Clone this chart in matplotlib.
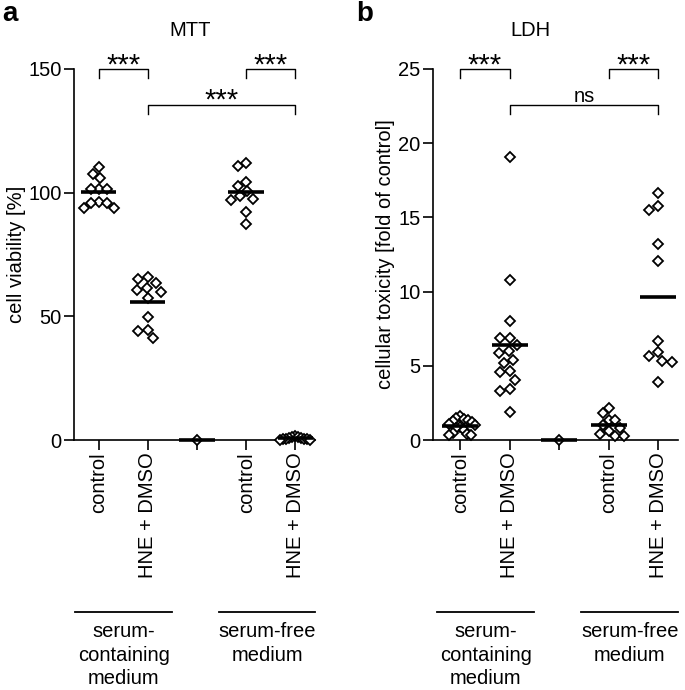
import numpy as np
import matplotlib
matplotlib.use('Agg')
import matplotlib.pyplot as plt
import matplotlib.transforms as mtransforms

plt.rcParams['font.family'] = ['Liberation Sans', 'DejaVu Sans']

# categories
positions = [1, 2, 3, 4, 5]
tick_labels = ['control', 'HNE + DMSO', '', 'control', 'HNE + DMSO']
media_labels = ['serum-\ncontaining\nmedium', 'serum-free\nmedium']

# MTT, cell viability [%]
mtt_sc_control = [110.2, 107.5, 105.9, 101.4, 101.4, 101.4, 96.4, 95.8, 95.8, 93.8, 93.8]
mtt_sc_hne = [65.8, 65.2, 63.4, 61.4, 60.7, 60.0, 57.3, 49.9, 44.5, 44.2, 41.1]
mtt_empty = [0.0]
mtt_sf_control = [112.0, 110.6, 104.5, 102.5, 100.5, 98.5, 97.4, 97.1, 92.0, 87.3]
mtt_sf_hne = [1.8, 1.4, 1.2, 1.0, 0.8, 0.6, 0.5, 0.4, 0.3, 0.2, 0.1]

# LDH, cellular toxicity [fold of control]
ldh_sc_control = [1.6, 1.5, 1.4, 1.35, 1.3, 1.2, 1.1, 1.0, 0.9, 0.8, 0.7, 0.5, 0.4, 0.35, 0.35]
ldh_sc_hne = [19.06, 10.79, 8.03, 6.90, 6.90, 6.41, 6.0, 5.84, 5.40, 5.17, 4.65, 4.56,
              4.05, 3.44, 3.33, 1.91]
ldh_empty = [0.0]
ldh_sf_control = [2.18, 1.80, 1.35, 1.35, 1.0, 0.83, 0.6, 0.38, 0.29, 0.29]
ldh_sf_hne = [16.63, 15.80, 15.51, 13.22, 12.03, 6.68, 5.96, 5.69, 5.35, 5.24, 3.93]

FS = 14.5


def swarm_offsets(ax, vals, d=10.0, max_half=15.0):
    # simple beeswarm in pixel space, like the GraphPad scatter
    p0 = ax.transData.transform((0, 0))
    p1 = ax.transData.transform((1, 1))
    sx, sy = p1 - p0
    placed = []
    for v in vals:
        y = v * sy
        cands = [0.0]
        for px, py in placed:
            dy = abs(py - y)
            if dy < d:
                dx = np.sqrt(d * d - dy * dy)
                cands += [px - dx, px + dx]
        cands.sort(key=abs)
        best = cands[0]
        for c in cands:
            if all((c - px) ** 2 + (y - py) ** 2 >= d * d - 1e-6 for px, py in placed):
                best = c
                break
        placed.append((best, y))
    xs = np.array([p[0] for p in placed])
    m = np.abs(xs).max() if len(xs) else 0
    if m > max_half:
        xs = xs * max_half / m
    return xs / sx


def bracket(ax, x1, x2, y, leg, text, fs, dy):
    ax.plot([x1, x1, x2, x2], [y - leg, y, y, y - leg], color='k', lw=1.0, clip_on=False)
    ax.annotate(text, xy=((x1 + x2) / 2, y), xytext=(0, dy), textcoords='offset points',
                ha='center', va='baseline', fontsize=fs, annotation_clip=False)


def draw_panel(ax, data, xlim, ylim, yticks, ylabel, ylabel_x):
    ax.set_xlim(*xlim)
    ax.set_ylim(*ylim)
    for pos, vals in zip(positions, data):
        offs = swarm_offsets(ax, vals)
        ax.plot(pos + offs, vals, linestyle='none', marker='D', ms=4.8, mfc='white',
                mec='black', mew=1.3, clip_on=False, zorder=3)
        ax.hlines(np.mean(vals), pos - 0.36, pos + 0.36, color='black', lw=2.6,
                  zorder=4, clip_on=False)
    for s in ['top', 'right']:
        ax.spines[s].set_visible(False)
    for s in ['left', 'bottom']:
        ax.spines[s].set_linewidth(1.2)
    ax.set_yticks(yticks)
    ax.set_xticks(positions)
    ax.set_xticklabels(tick_labels, rotation=90, fontsize=FS)
    ax.tick_params(axis='both', direction='out', length=7, width=1.2, labelsize=FS, pad=2)
    ax.set_ylabel(ylabel, fontsize=FS)
    ax.yaxis.set_label_coords(ylabel_x, 0.5)

    # group lines and labels under the tick labels
    trans = mtransforms.blended_transform_factory(ax.transData, ax.transAxes)
    for (a, b), lab in zip([(0.53, 2.5), (3.45, 5.4)], media_labels):
        ax.plot([a, b], [-0.464, -0.464], color='black', lw=1.3, transform=trans, clip_on=False)
        ax.text((a + b) / 2, -0.49, lab, transform=trans, ha='center', va='top',
                fontsize=FS, linespacing=1.32)


fig = plt.figure(figsize=(6.85, 6.9), dpi=100)
ax1 = fig.add_axes([74 / 685, 1 - 440 / 690, 241 / 685, 371 / 690])
ax2 = fig.add_axes([433 / 685, 1 - 440 / 690, 245 / 685, 371 / 690])

draw_panel(ax1, [mtt_sc_control, mtt_sc_hne, mtt_empty, mtt_sf_control, mtt_sf_hne],
           (0.5, 5.4), (0, 150), [0, 50, 100, 150], 'cell viability [%]', -0.2)
draw_panel(ax2, [ldh_sc_control, ldh_sc_hne, ldh_empty, ldh_sf_control, ldh_sf_hne],
           (0.45, 5.4), (0, 25), [0, 5, 10, 15, 20, 25],
           'cellular toxicity [fold of control]', -0.155)

bracket(ax1, 1, 2, 150, 3.7, '***', 21, -3)
bracket(ax1, 4, 5, 150, 3.7, '***', 21, -3)
bracket(ax1, 2, 5, 135.5, 3.7, '***', 21, -3)
bracket(ax2, 1, 2, 25, 0.62, '***', 21, -3)
bracket(ax2, 4, 5, 25, 0.62, '***', 21, -3)
bracket(ax2, 2, 5, 22.6, 0.62, 'ns', FS, 2)

fig.text(190 / 685, 1 - 30 / 690, 'MTT', ha='center', va='center', fontsize=FS)
fig.text(530 / 685, 1 - 30 / 690, 'LDH', ha='center', va='center', fontsize=FS)
fig.text(2 / 685, 1 - 14 / 690, 'a', ha='left', va='center', fontsize=20, fontweight='bold')
fig.text(356 / 685, 1 - 14 / 690, 'b', ha='left', va='center', fontsize=20, fontweight='bold')

fig.savefig('out.png', dpi=100)
plt.close(fig)
